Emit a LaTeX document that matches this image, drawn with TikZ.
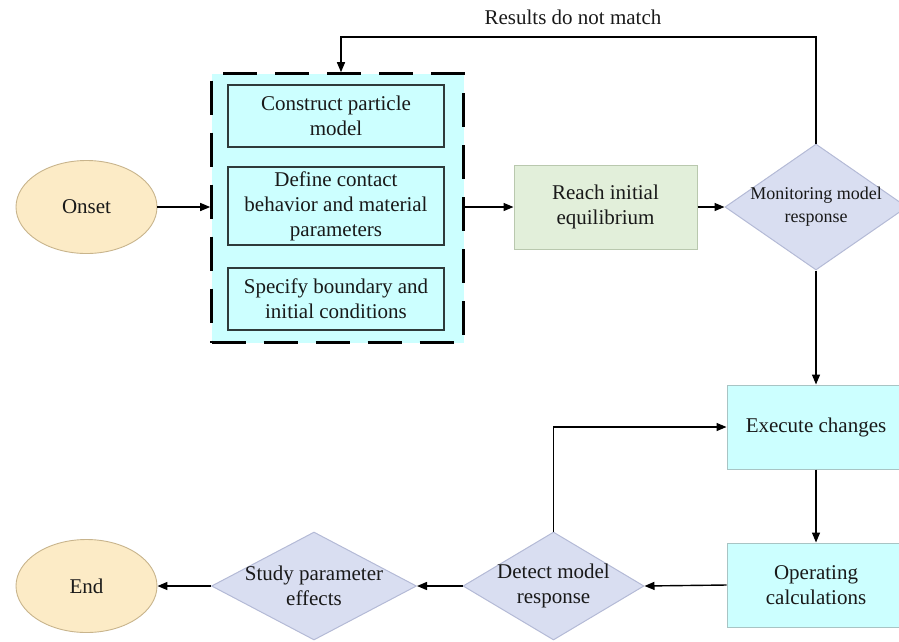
\documentclass[tikz,border=0pt]{standalone}
\usepackage{fontspec}
\setmainfont{Liberation Serif}
\usetikzlibrary{shapes.geometric,arrows.meta}
\definecolor{ellfill}{HTML}{FCEBC6}
\definecolor{elldraw}{HTML}{C8B48C}
\definecolor{cyanfill}{HTML}{CCFFFF}
\definecolor{cyandraw}{HTML}{A8C4C4}
\definecolor{innerdraw}{HTML}{2E3A3A}
\definecolor{grnfill}{HTML}{E2EFDA}
\definecolor{grndraw}{HTML}{B9C8AE}
\definecolor{diafill}{HTML}{D9DEF1}
\definecolor{diadraw}{HTML}{B4BAD6}
\tikzset{
  base/.style={font=\fontsize{21pt}{25pt}\selectfont, align=center, inner sep=0pt, text=black!90},
  ell/.style={base, ellipse, fill=ellfill, draw=elldraw, line width=0.9pt, minimum width=141pt, minimum height=93pt},
  grpbox/.style={base, rectangle, fill=cyanfill, draw=black, line width=2.6pt, dash pattern=on 34pt off 18pt, minimum width=252pt, minimum height=269pt},
  inbox/.style={base, rectangle, fill=cyanfill, draw=innerdraw, line width=1.5pt, minimum width=216pt},
  grnbox/.style={base, rectangle, fill=grnfill, draw=grndraw, line width=1pt, minimum width=183pt, minimum height=84pt},
  cybox/.style={base, rectangle, fill=cyanfill, draw=cyandraw, line width=1pt, minimum width=178pt, minimum height=84pt},
  dia/.style={diamond, fill=diafill, draw=diadraw, line width=1pt, inner sep=0pt},
  dtext/.style={base},
  arr/.style={draw=black, line width=1.4pt, -{Triangle[length=10pt,width=8pt]}},
}
\begin{document}
\begin{tikzpicture}[x=1pt,y=-1pt]
\useasboundingbox (0,0) rectangle (899,641);
% nodes
\node[ell] (onset) at (86.5,207) {Onset};
\node[grpbox] (grp) at (337.5,208) {};
\node[inbox, minimum height=62pt] (b1) at (336,116) {Construct particle\\model};
\node[inbox, minimum height=78pt] (b2) at (336,206) {Define contact\\behavior and material\\parameters};
\node[inbox, minimum height=62pt] (b3) at (336,299) {Specify boundary and\\initial conditions};
\node[grnbox] (reach) at (605.5,207) {Reach initial\\equilibrium};
\node[dia, minimum width=182pt, minimum height=126pt,
  label={[dtext, font=\fontsize{18pt}{23pt}\selectfont]center:Monitoring model\\response}] (mon) at (816,207) {};
\node[cybox] (exe) at (816,427) {Execute changes};
\node[cybox] (op) at (816,585) {Operating\\calculations};
\node[dia, minimum width=181pt, minimum height=108pt,
  label={[dtext]center:Detect model\\response}] (det) at (553.5,586) {};
\node[dia, minimum width=205pt, minimum height=108pt,
  label={[dtext]center:Study parameter\\effects}] (study) at (314,586) {};
\node[ell] (endn) at (86.5,586) {End};
\node[base] (fblabel) at (573,17) {Results do not match};
\coordinate (fbtop) at (341,37);
% connectors
\draw[arr] (onset.east) -- (onset.east -| grp.west);
\draw[arr] (grp.east |- reach.west) -- (reach.west);
\draw[arr] (reach.east) -- (mon.west);
\draw[arr] (mon.north) |- (fbtop) -- (fbtop |- grp.north);
\draw[arr] (mon.south) -- (exe.north);
\draw[arr] (exe.south) -- (op.north);
\draw[arr] (op.west) -- (det.east);
\draw[arr] (det.north) |- (exe.west);
\draw[arr] (det.west) -- (study.east);
\draw[arr] (study.west) -- (endn.east);
\end{tikzpicture}
\end{document}
